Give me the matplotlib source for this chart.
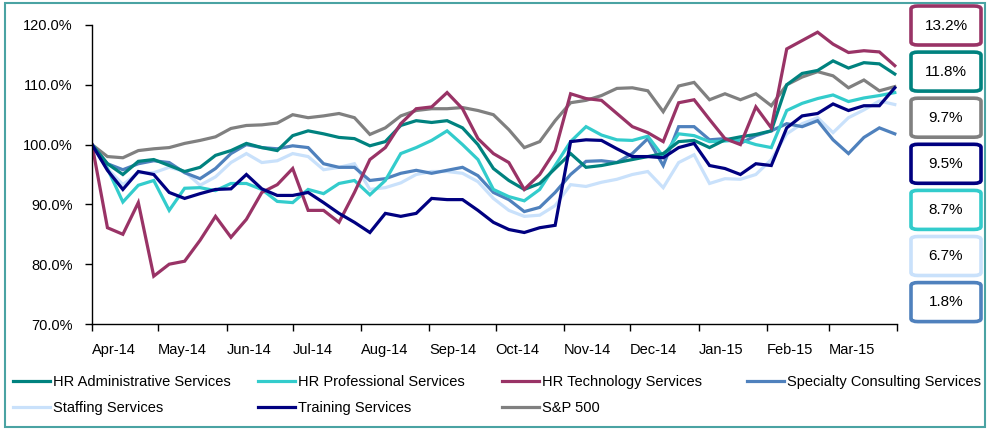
import numpy as np
import pandas as pd
import matplotlib
matplotlib.use('Agg')
import matplotlib.pyplot as plt
from matplotlib.patches import FancyBboxPatch, Rectangle

plt.rcParams['font.family'] = ['Liberation Sans', 'DejaVu Sans']

# Weekly index values (start = 100%)
dates = pd.date_range('2014-04-01', periods=53, freq='7D')

hr_admin = [100.0, 96.8, 95.0, 97.2, 97.5, 96.5, 95.5, 96.2, 98.2, 99.0,
            100.2, 99.5, 99.0, 101.5, 102.3, 101.8, 101.2, 101.0, 99.8, 100.5,
            103.2, 104.0, 103.7, 104.0, 102.8, 100.0, 96.0, 94.0, 92.5, 93.5,
            96.0, 98.5, 96.2, 96.5, 97.0, 97.5, 98.0, 98.5, 100.5, 100.7,
            99.5, 100.8, 101.3, 101.7, 102.3, 110.0, 111.9, 112.4, 114.0, 112.8,
            113.7, 113.5, 111.8]
hr_prof = [100.0, 96.0, 90.4, 93.2, 94.0, 89.0, 92.7, 92.8, 92.3, 93.5,
           93.5, 92.5, 90.5, 90.3, 92.5, 91.8, 93.5, 94.0, 91.6, 94.0,
           98.5, 99.5, 100.7, 102.3, 100.0, 97.5, 92.5, 91.3, 90.6, 92.5,
           96.5, 100.5, 103.0, 101.6, 100.8, 100.7, 101.4, 98.0, 101.8, 101.5,
           100.5, 100.6, 100.8, 100.0, 99.5, 105.7, 106.9, 107.7, 108.3, 107.2,
           107.8, 108.2, 108.7]
hr_tech = [100.0, 86.1, 85.0, 90.3, 78.0, 80.0, 80.5, 84.0, 88.0, 84.5,
           87.5, 92.0, 93.3, 96.0, 89.0, 89.0, 87.0, 92.0, 97.5, 99.5,
           103.5, 106.0, 106.3, 108.7, 106.0, 101.0, 98.5, 97.0, 92.5, 95.0,
           99.0, 108.5, 107.7, 107.4, 105.2, 103.0, 102.0, 100.5, 107.0, 107.5,
           104.2, 101.0, 100.0, 106.3, 102.8, 116.0, 117.4, 118.8, 116.8, 115.4,
           115.7, 115.5, 113.2]
specialty = [100.0, 96.8, 95.8, 96.8, 97.3, 97.0, 95.3, 94.3, 96.0, 98.5,
             100.0, 99.5, 99.3, 99.8, 99.5, 96.8, 96.2, 96.2, 94.0, 94.3,
             95.2, 95.7, 95.2, 95.7, 96.2, 94.8, 92.0, 90.8, 88.8, 89.5,
             92.0, 95.0, 97.2, 97.3, 97.0, 98.5, 101.0, 96.5, 103.0, 103.0,
             100.8, 101.0, 100.2, 101.5, 102.3, 103.5, 103.0, 104.0, 100.8, 98.5,
             101.2, 102.8, 101.8]
staffing = [100.0, 96.0, 93.3, 95.3, 95.3, 96.2, 95.5, 93.2, 94.6, 97.0,
            98.5, 97.0, 97.3, 98.5, 98.0, 95.8, 96.2, 96.8, 92.5, 92.8,
            93.6, 95.0, 95.5, 95.5, 95.2, 93.8, 91.0, 89.0, 88.0, 88.2,
            89.8, 93.3, 93.0, 93.7, 94.2, 95.0, 95.5, 92.8, 97.0, 98.3,
            93.5, 94.3, 94.2, 95.0, 97.5, 101.8, 103.5, 104.5, 102.0, 104.5,
            105.8, 107.3, 106.7]
training = [100.0, 95.7, 92.5, 95.5, 95.0, 92.0, 91.0, 91.8, 92.5, 92.6,
            95.0, 92.6, 91.5, 91.5, 92.0, 90.3, 88.5, 87.0, 85.3, 88.5,
            88.0, 88.5, 91.0, 90.8, 90.8, 89.0, 87.0, 85.8, 85.3, 86.1,
            86.5, 100.5, 100.8, 100.7, 99.3, 98.0, 98.0, 97.8, 99.5, 100.2,
            96.5, 96.0, 95.0, 96.8, 96.5, 102.8, 104.8, 105.2, 106.8, 105.7,
            106.5, 106.5, 109.5]
sp500 = [100.0, 98.0, 97.8, 99.0, 99.3, 99.5, 100.2, 100.7, 101.3, 102.7,
         103.2, 103.3, 103.6, 105.0, 104.5, 104.8, 105.2, 104.5, 101.7, 102.8,
         104.8, 105.7, 106.0, 106.0, 106.2, 105.7, 105.0, 102.5, 99.5, 100.5,
         104.0, 107.0, 107.4, 108.2, 109.4, 109.5, 109.0, 105.5, 109.8, 110.4,
         107.5, 108.5, 107.5, 108.5, 106.5, 110.0, 111.3, 112.2, 111.5, 109.5,
         110.8, 109.0, 109.7]

labels = ['HR Administrative Services', 'HR Professional Services',
          'HR Technology Services', 'Specialty Consulting Services',
          'Staffing Services', 'Training Services', 'S&P 500']
series = [hr_admin, hr_prof, hr_tech, specialty, staffing, training, sp500]
colors = ['#00827F', '#33CCCC', '#993366', '#4F81BD', '#C9E1FB', '#000080', '#808080']

W, H = 995, 430
fig = plt.figure(figsize=(W / 100, H / 100), dpi=100)
ax = fig.add_axes([92 / W, 1 - 324 / H, (897 - 92) / W, (324 - 25) / H])

# draw order so navy / maroon sit on top like the original
order = [6, 4, 3, 1, 0, 2, 5]
lines = {}
for i in order:
    ln, = ax.plot(dates, series[i], color=colors[i], lw=2.3, label=labels[i],
                  solid_joinstyle='miter')
    lines[i] = ln

ax.set_ylim(70, 120)
ax.set_yticks(np.arange(70, 121, 10))
ax.set_yticklabels([f'{v:.1f}%' for v in np.arange(70, 121, 10)])
ax.set_xlim(pd.Timestamp('2014-04-01'), pd.Timestamp('2015-04-01'))
month_ticks = pd.date_range('2014-04-01', '2015-04-01', freq='MS')
ax.set_xticks(month_ticks)
ax.set_xticklabels([d.strftime('%b-%y') for d in month_ticks[:-1]] + [''])
for t in ax.get_xticklabels():
    t.set_ha('left')
ax.tick_params(axis='both', labelsize=10.5, length=5, width=1, direction='out')
ax.tick_params(axis='x', pad=9)
ax.tick_params(axis='y', pad=9)
for s in ['top', 'right']:
    ax.spines[s].set_visible(False)
for s in ['left', 'bottom']:
    ax.spines[s].set_linewidth(1)

# legend: 4 fixed columns, 2 rows
col_x = [13, 258, 502, 747]
cols = [[0, 4], [1, 5], [2, 6], [3]]
for cx, idx in zip(col_x, cols):
    fig.legend([lines[i] for i in idx], [labels[i] for i in idx],
               loc='upper left', bbox_to_anchor=(cx / W, 1 - 375 / H),
               frameon=False, fontsize=10.5, borderpad=0, borderaxespad=0,
               handlelength=2.55, handletextpad=0.2, labelspacing=0.85)

# end-value boxes on the right, sorted by final return
final = sorted(range(len(series)), key=lambda i: series[i][-1], reverse=True)
for k, i in enumerate(final):
    top = 6 + k * 46.1
    box = FancyBboxPatch((911 / W, 1 - (top + 39) / H), 70 / W, 39 / H,
                         boxstyle='round,pad=0,rounding_size=0.007',
                         transform=fig.transFigure, fc='white',
                         ec=colors[i], lw=2.6)
    fig.add_artist(box)
    fig.text(946 / W, 1 - (top + 19.5) / H, f'{series[i][-1] - 100:.1f}%',
             ha='center', va='center', fontsize=11)

# outer frame
fig.add_artist(Rectangle((5 / W, 3 / H), 980 / W, 424 / H, transform=fig.transFigure,
                         fill=False, ec='#4AA3A3', lw=1.5))

fig.savefig('out.png', dpi=100)
